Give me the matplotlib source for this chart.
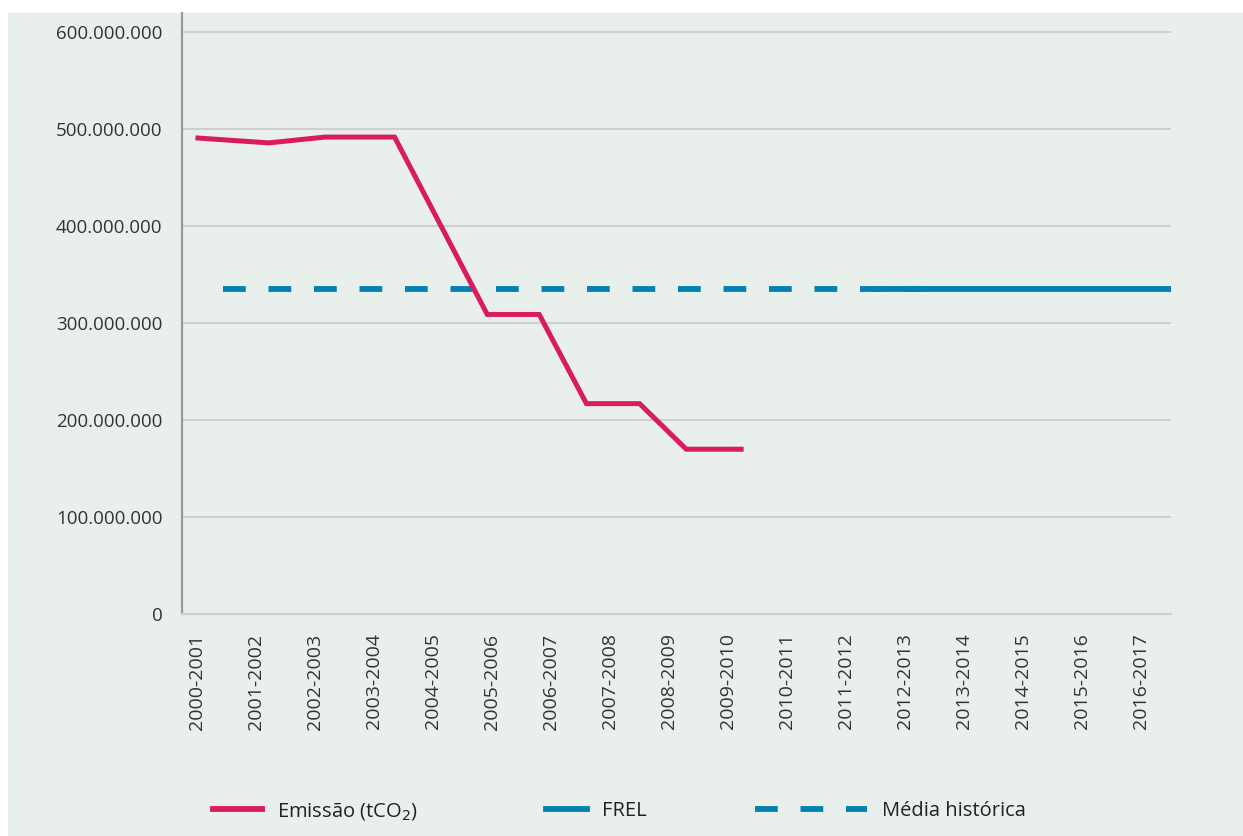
# gráfico de emissões com FREL e média histórica

import matplotlib
matplotlib.use('Agg')
import matplotlib.pyplot as plt
from matplotlib.lines import Line2D
from matplotlib.patches import Rectangle
from matplotlib.ticker import FuncFormatter

plt.rcParams['font.family'] = ['Open Sans', 'DejaVu Sans']

# dados
periodos = ['2000-2001', '2001-2002', '2002-2003', '2003-2004', '2004-2005',
            '2005-2006', '2006-2007', '2007-2008', '2008-2009', '2009-2010',
            '2010-2011', '2011-2012', '2012-2013', '2013-2014', '2014-2015',
            '2015-2016', '2016-2017']

emissao_x = [0.02, 1.22, 2.17, 3.35, 4.92, 5.80, 6.60, 7.50, 8.29, 9.22]
emissao = [491e6, 486e6, 492e6, 492e6, 309e6, 309e6, 217e6, 217e6, 170e6, 170e6]

media_x = [0.44, 12.3]
media = [335e6, 335e6]

frel_x = [11.5, 16.5]
frel = [335e6, 335e6]

yticks = [0, 100e6, 200e6, 300e6, 400e6, 500e6, 600e6]

fundo = '#e9f0ec'
vermelho = '#d81c5c'
azul = '#0082b5'

fig = plt.figure(figsize=(12.43, 8.36), dpi=100, facecolor='white')
fig.patches.append(Rectangle((8 / 1243, 0), 1, 1 - 13 / 836,
                             transform=fig.transFigure, color=fundo, zorder=-5))

ax = fig.add_axes([182 / 1243, 1 - 614 / 836, (1171 - 182) / 1243, (614 - 13) / 836])
ax.set_facecolor(fundo)

ax.plot(media_x, media, color=azul, lw=4.2, linestyle=(0, (3.9, 3.9)),
        dash_capstyle='butt', zorder=3)
ax.plot(frel_x, frel, color=azul, lw=4.2, solid_capstyle='butt', zorder=3)
ax.plot(emissao_x, emissao, color=vermelho, lw=3.6, solid_joinstyle='miter', zorder=4)

ax.set_xlim(-0.25, 16.5)
ax.set_ylim(0, 620e6)
ax.set_yticks(yticks)
ax.yaxis.set_major_formatter(FuncFormatter(lambda v, p: f'{int(v):,}'.replace(',', '.')))
ax.set_xticks(range(len(periodos)))
ax.set_xticklabels(periodos, rotation=90)

ax.grid(axis='y', color='#cfcfcf', lw=1.5)
ax.set_axisbelow(True)
ax.tick_params(length=0, labelcolor='#333333')
ax.tick_params(axis='y', pad=14, labelsize=13.5)
ax.tick_params(axis='x', pad=14, labelsize=14)

for s in ['top', 'right']:
    ax.spines[s].set_visible(False)
ax.spines['left'].set_color('#9a9a9a')
ax.spines['left'].set_linewidth(1.6)
ax.spines['bottom'].set_color('#cfcfcf')
ax.spines['bottom'].set_linewidth(1.5)

# legenda em tres partes
entradas = [
    (Line2D([], [], color=vermelho, lw=4.2), 'Emissão (tCO$_2$)', 210, 2.45),
    (Line2D([], [], color=azul, lw=4.2), 'FREL', 543, 2.05),
    (Line2D([], [], color=azul, lw=4.2, linestyle=(0, (3.9, 3.9))), 'Média histórica', 752, 5.6),
]
for h, txt, x0, hl in entradas:
    leg = fig.legend([h], [txt], loc='center left',
                     bbox_to_anchor=(x0 / 1243 - 0.0125, 1 - 811 / 836),
                     frameon=False, fontsize=14.5, handlelength=hl,
                     handletextpad=0.75, labelcolor='#222222')

fig.savefig('out.png', dpi=100, facecolor='white')
